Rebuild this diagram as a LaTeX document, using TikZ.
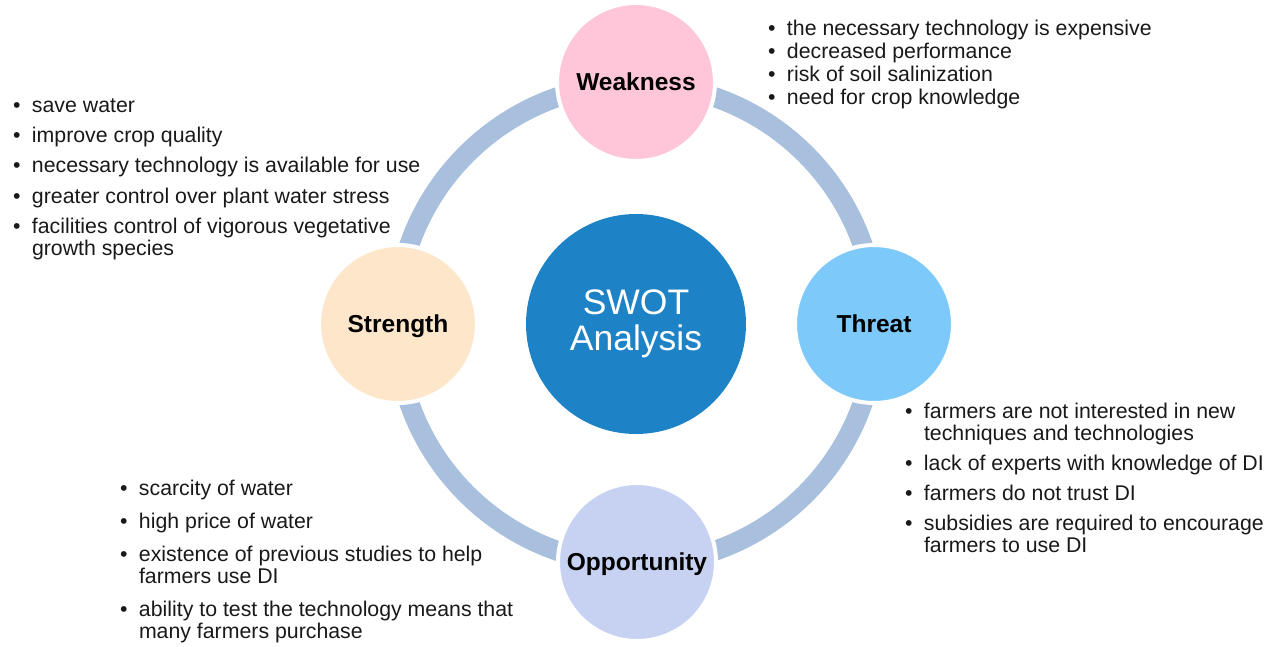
\documentclass[tikz,border=0pt]{standalone}
\usepackage{fontspec}
\setmainfont{Liberation Sans}
\definecolor{ringc}{HTML}{A8BFDD}
\definecolor{weakc}{HTML}{FFC6DA}
\definecolor{strc}{HTML}{FDE6CA}
\definecolor{thrc}{HTML}{7DCAFA}
\definecolor{oppc}{HTML}{C7D2F3}
\definecolor{swotc}{HTML}{1E82C6}
\newcommand{\blt}[1]{\begin{tabular}[t]{@{}p{19pt}@{}l@{}}\textbullet&#1\end{tabular}}
\begin{document}
\begin{tikzpicture}[x=1pt,y=-1pt,
  quad/.style={circle,draw=white,line width=4pt,minimum size=158pt,inner sep=0pt,outer sep=0pt,
    text depth=0pt,font=\fontsize{24.5}{28}\selectfont\bfseries,text=black},
  item/.style={anchor=base west,inner sep=0pt,outer sep=0pt,font=\fontsize{21.3}{22.5}\selectfont,text=black!90}]
\useasboundingbox (0,0) rectangle (1275,646);
\coordinate (c) at (636,324);
\draw[ringc,line width=20pt] (c) circle[radius=240pt];
\node[circle,fill=swotc,minimum size=220pt,inner sep=0pt,align=center,text=white,
  font=\fontsize{35.5}{36}\selectfont] (swot) at (636,324) {SWOT\\Analysis};
\node[quad,fill=weakc] (weak) at (636,82) {Weakness};
\node[quad,fill=strc] (str) at (398,324) {Strength};
\node[quad,fill=thrc] (thr) at (874,324) {Threat};
\node[quad,fill=oppc] (opp) at (637,562) {Opportunity};
% Weakness list
\node[item] (w1) at (768,35) {\blt{the necessary technology is expensive}};
\node[item] (w2) at (768,58) {\blt{decreased performance}};
\node[item] (w3) at (768,81) {\blt{risk of soil salinization}};
\node[item] (w4) at (768,104) {\blt{need for crop knowledge}};
% Strength list
\node[item] (s1) at (13,112) {\blt{save water}};
\node[item] (s2) at (13,142) {\blt{improve crop quality}};
\node[item] (s3) at (13,172) {\blt{necessary technology is available for use}};
\node[item] (s4) at (13,203) {\blt{greater control over plant water stress}};
\node[item] (s5) at (13,233) {\blt{facilities control of vigorous vegetative\\&growth species}};
% Threat list
\node[item] (t1) at (905,418) {\blt{farmers are not interested in new\\&techniques and technologies}};
\node[item] (t2) at (905,470) {\blt{lack of experts with knowledge of DI}};
\node[item] (t3) at (905,500) {\blt{farmers do not trust DI}};
\node[item] (t4) at (905,530) {\blt{subsidies are required to encourage\\&farmers to use DI}};
% Opportunity list
\node[item] (o1) at (120,495) {\blt{scarcity of water}};
\node[item] (o2) at (120,528) {\blt{high price of water}};
\node[item] (o3) at (120,561) {\blt{existence of previous studies to help\\&farmers use DI}};
\node[item] (o4) at (120,616) {\blt{ability to test the technology means that\\&many farmers purchase}};
\end{tikzpicture}
\end{document}
